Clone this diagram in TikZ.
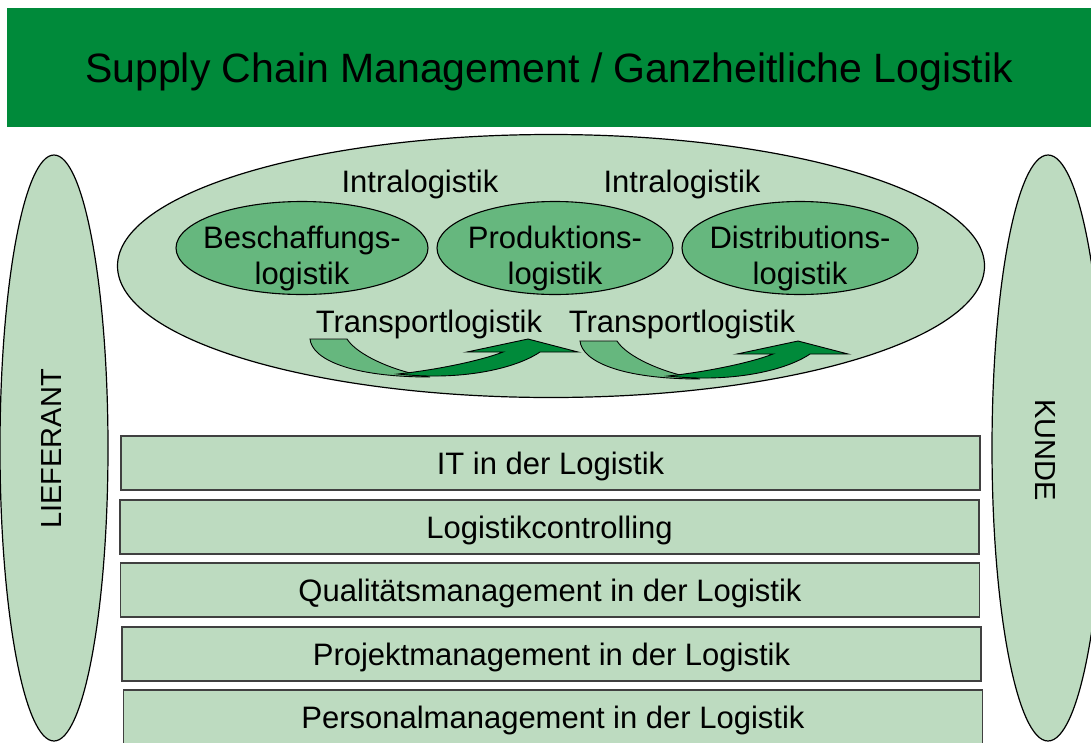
\documentclass[tikz,border=0pt]{standalone}
\usepackage{fontspec}
\setmainfont{Liberation Sans}
\usepackage{xcolor}
\usepackage{tikz}
\usetikzlibrary{calc,shapes.geometric}
\definecolor{hdrgreen}{HTML}{008A3A}
\definecolor{palegreen}{HTML}{BDDBC0}
\definecolor{midgreen}{HTML}{66B77E}
\definecolor{rim}{HTML}{404040}
\tikzset{
  zone/.style={ellipse, draw=black, fill=palegreen, line width=1.2pt, inner sep=0pt},
  proc/.style={ellipse, draw=black, fill=midgreen, line width=1.1pt, inner sep=0pt},
  layer/.style={rectangle, draw=rim, fill=palegreen, line width=1.6pt, minimum width=859pt, minimum height=54pt, inner sep=0pt, text depth=0pt, font=\fontsize{31}{36}\selectfont},
  lab/.style={text=black, font=\fontsize{31}{36}\selectfont, align=center, inner sep=0pt},
  side/.style={text=black, font=\fontsize{29}{34}\selectfont, inner sep=0pt},
  pics/transarrow/.style={code={
    \filldraw[fill=midgreen, draw=black, line width=0.9pt] (0,0) .. controls (2,20) and (40,38) .. (120,38) .. controls (85,33) and (47,16) .. (37,0) -- cycle;
    \filldraw[fill=hdrgreen, draw=black, line width=0.9pt, line join=miter] (88,35) .. controls (150,42) and (205,30) .. (230,13) -- (268,13) -- (218,0) -- (157,13) -- (193,13) .. controls (170,22) and (125,31) .. (88,35) -- cycle;
  }},
}
\begin{document}
\begin{tikzpicture}[x=1pt, y=-1pt]
  \useasboundingbox (0,0) rectangle (1091,742);
  \clip (0,0) rectangle (1091,742);
  % header
  \node[fill=hdrgreen, minimum width=1084pt, minimum height=119pt, inner sep=0pt, text depth=0pt, font=\fontsize{41}{48}\selectfont] (hdr) at (549,67.5) {Supply Chain Management / Ganzheitliche Logistik};
  % logistics chain
  \node[zone, minimum width=867pt, minimum height=263pt] (scm) at (551,266) {};
  \node[lab] (intraA) at (420,184) {Intralogistik};
  \node[lab] (intraB) at (682,184) {Intralogistik};
  \node[proc, minimum width=252pt, minimum height=93pt] (besch) at (302,248) {};
  \node[proc, minimum width=236pt, minimum height=93pt] (prod) at (555,248) {};
  \node[proc, minimum width=236pt, minimum height=93pt] (dist) at (800,248) {};
  \node[lab] (beschT) at ($(besch)+(0,10)$) {Beschaffungs-\\logistik};
  \node[lab] (prodT) at ($(prod)+(0,10)$) {Produktions-\\logistik};
  \node[lab] (distT) at ($(dist)+(0,10)$) {Distributions-\\logistik};
  \node[lab] (transA) at (429,324) {Transportlogistik};
  \node[lab] (transB) at (682,324) {Transportlogistik};
  \pic at (310,339) {transarrow};
  \pic at (580,341) {transarrow};
  % cross functions
  \node[layer] (itlog) at (550.5,463) {IT in der Logistik};
  \node[layer] (ctrl) at (549.5,527) {Logistikcontrolling};
  \node[layer] (qm) at (550,590) {Qualitätsmanagement in der Logistik};
  \node[layer] (pm) at (551.5,654) {Projektmanagement in der Logistik};
  \node[layer] (perso) at (553,717) {Personalmanagement in der Logistik};
  % partners
  \node[zone, minimum width=108pt, minimum height=586pt] (lief) at (54,448) {};
  \node[side, rotate=90] (liefT) at (52,449) {LIEFERANT};
  \node[zone, minimum width=112pt, minimum height=586pt] (kunde) at (1048,448) {};
  \node[side, rotate=-90] (kundeT) at (1045,450) {KUNDE};
\end{tikzpicture}
\end{document}
